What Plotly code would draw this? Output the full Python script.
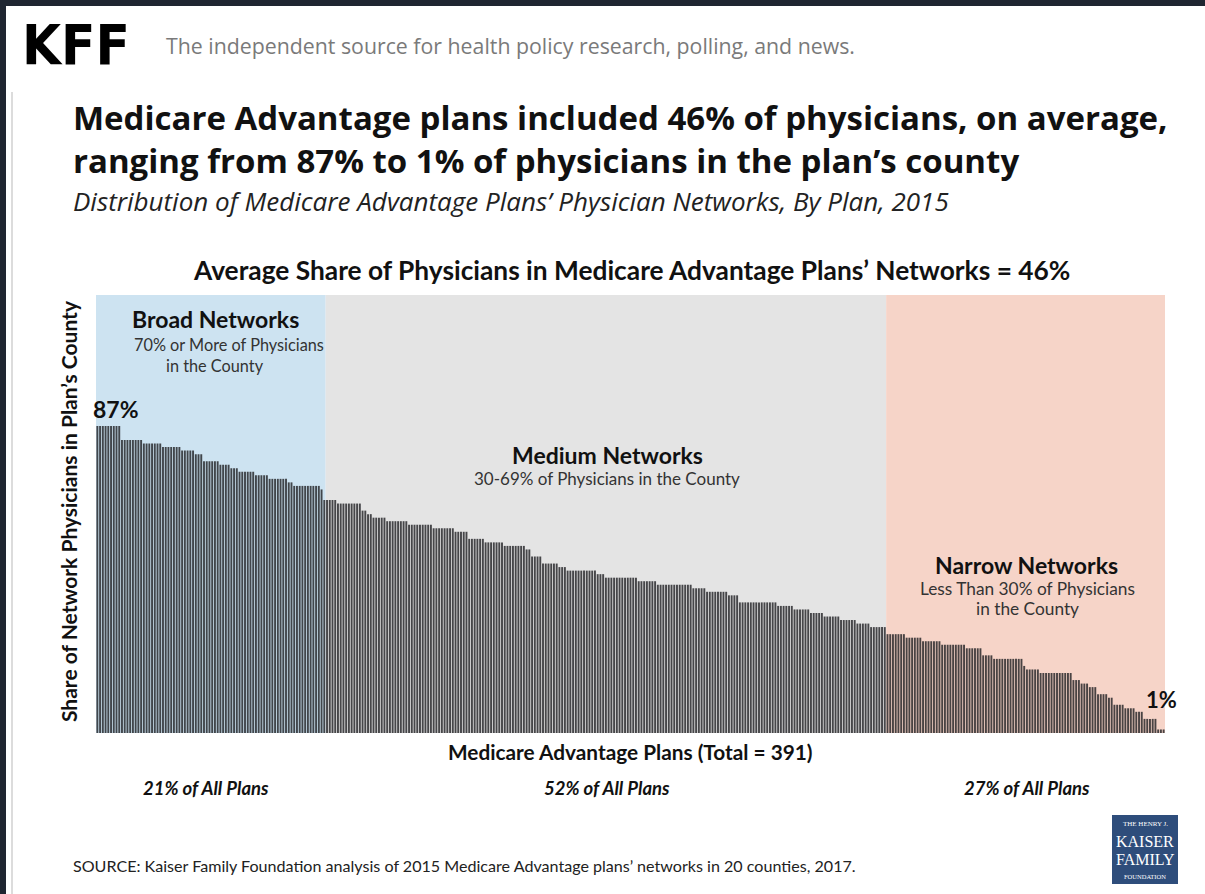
import numpy as np
import plotly.graph_objects as go

# ---- data: step levels (share %) and number of plans at each level ----
broad_levels = [87, 83, 82, 81, 80, 79, 77, 76, 75, 74, 73, 72, 71, 70]
broad_counts = [9, 8, 7, 7, 5, 3, 6, 4, 3, 6, 5, 7, 2, 10]
medium_levels = [69, 66, 65, 63, 62, 61, 60, 59, 58, 57, 55, 54, 53, 52, 50, 48, 47, 46, 45, 44,
                 43, 42, 41, 40, 39, 37, 36, 35, 34, 33, 32, 31, 30]
medium_counts = [1, 5, 9, 2, 2, 5, 8, 9, 8, 5, 6, 7, 8, 2, 4, 6, 3, 11, 3, 12,
                 7, 13, 5, 8, 4, 14, 6, 6, 5, 6, 6, 5, 6]
narrow_levels = [28, 27, 26, 25, 24, 22, 21, 19, 18, 17, 15, 14, 13, 11, 10, 8, 7, 6, 4, 1]
narrow_counts = [7, 6, 7, 9, 6, 4, 11, 1, 5, 12, 3, 3, 3, 4, 2, 4, 4, 3, 5, 3]

group_labels = ["21% of All Plans", "52% of All Plans", "27% of All Plans"]

shares = np.concatenate([
    np.repeat(broad_levels, broad_counts),
    np.repeat(medium_levels, medium_counts),
    np.repeat(narrow_levels, narrow_counts),
])
plans = np.arange(len(shares))
nb, nm = sum(broad_counts), sum(medium_counts)
N = len(shares)

# ---- pixel -> paper helpers (plot area: x 96..1165, y 295..733) ----
L, R, T, B = 96, 1165, 295, 733
W, H = 1205, 894
def px(x):
    return (x - L) / (R - L)
def py(y):
    return (B - y) / (B - T)

FONT = "Lato, Open Sans, sans-serif"
fig = go.Figure()
fig.add_trace(go.Bar(x=plans, y=shares, marker=dict(color="rgba(30,30,34,0.8)", line=dict(width=0)),
                     hoverinfo="x+y", showlegend=False))

# region backgrounds
regions = [(-0.5, nb + 1.5, "#cde3f1"), (nb + 1.5, nb + nm - 0.5, "#e4e4e4"), (nb + nm - 0.5, N - 0.5, "#f6d4c8")]
for x0, x1, c in regions:
    fig.add_shape(type="rect", xref="x", yref="paper", x0=x0, x1=x1, y0=0, y1=1,
                  fillcolor=c, line=dict(width=0), layer="below")

# page decoration: dark frame, card border
fig.add_shape(type="rect", xref="paper", yref="paper", x0=px(0), x1=px(W), y0=py(0), y1=py(6),
              fillcolor="#1f2631", line=dict(width=0))
fig.add_shape(type="rect", xref="paper", yref="paper", x0=px(0), x1=px(6), y0=py(0), y1=py(H),
              fillcolor="#1f2631", line=dict(width=0))
fig.add_shape(type="line", xref="paper", yref="paper", x0=px(12), x1=px(12), y0=py(92), y1=py(H),
              line=dict(color="#dcdcdc", width=2))

ann = []
def text(x, y, s, size, color="#111", bold=False, italic=False, xa="center", family=FONT, angle=0):
    if bold:
        s = "<b>" + s + "</b>"
    if italic:
        s = "<i>" + s + "</i>"
    ann.append(dict(xref="paper", yref="paper", x=px(x), y=py(y), text=s, showarrow=False,
                    xanchor=xa, yanchor="middle", textangle=angle,
                    font=dict(family=family, size=size, color=color)))

# header
text(20, 44, "KFF", 56, "#000", bold=True, xa="left", family="Liberation Sans Narrow, DejaVu Sans Condensed, sans-serif")
text(164, 46, "The independent source for health policy research, polling, and news.", 21.3, "#7a7a7a",
     xa="left", family="Open Sans, sans-serif")
# titles
text(71, 117, "Medicare Advantage plans included 46% of physicians, on average,", 33, "#111", bold=True,
     xa="left", family="Open Sans, sans-serif")
text(71, 160, "ranging from 87% to 1% of physicians in the plan\u2019s county", 33, "#111", bold=True,
     xa="left", family="Open Sans, sans-serif")
text(71, 201, "Distribution of Medicare Advantage Plans\u2019 Physician Networks, By Plan, 2015", 26, "#222",
     italic=True, xa="left", family="Open Sans, sans-serif")
text(631, 270, "Average Share of Physicians in Medicare Advantage Plans\u2019 Networks = 46%", 26.3, "#111", bold=True)

# region labels
text(215, 319, "Broad Networks", 23, bold=True)
text(229, 344, "70% or More of Physicians", 16.3, "#333")
text(215, 365, "in the County", 16.3, "#333")
text(607, 455, "Medium Networks", 23, bold=True)
text(607, 478, "30-69% of Physicians in the County", 17, "#333")
text(1026, 565, "Narrow Networks", 23, bold=True)
text(1027, 588, "Less Than 30% of Physicians", 17.3, "#333")
text(1027, 608, "in the County", 17.3, "#333")
text(116, 409, "87%", 23, bold=True)
text(1161, 699, "1%", 22, bold=True)

# axes titles
text(68, 511, "Share of Network Physicians in Plan\u2019s County", 21, "#111", bold=True, angle=-90)
text(630, 751, "Medicare Advantage Plans (Total = 391)", 20.8, "#111", bold=True)
for xx, lab in zip([206, 607, 1027], group_labels):
    text(xx, 788, lab, 18.5, "#111", bold=True, italic=True)

text(71, 865, "SOURCE: Kaiser Family Foundation analysis of 2015 Medicare Advantage plans\u2019 networks in 20 counties, 2017.",
     16.1, "#222", xa="left")

# logo
fig.add_shape(type="rect", xref="paper", yref="paper", x0=px(1112), x1=px(1178), y0=py(815), y1=py(884),
              fillcolor="#2e4d7b", line=dict(width=0))
serif = "Liberation Serif, DejaVu Serif, serif"
text(1145, 824, "THE HENRY J.", 7, "#ffffff", family=serif)
text(1145, 841, "KAISER", 16, "#ffffff", family=serif)
text(1145, 859, "FAMILY", 16, "#ffffff", family=serif)
text(1145, 876, "FOUNDATION", 6.5, "#ffffff", family=serif)

fig.update_layout(
    width=W, height=H,
    margin=dict(l=L, r=W - R, t=T, b=H - B, pad=0),
    paper_bgcolor="#ffffff", plot_bgcolor="rgba(0,0,0,0)",
    bargap=0.3,
    xaxis=dict(range=[-0.5, N - 0.5], showticklabels=False, showgrid=False, zeroline=False, ticks="", fixedrange=True),
    yaxis=dict(range=[0, (B - T) / 3.53], showticklabels=False, showgrid=False, zeroline=False, ticks="", fixedrange=True),
    annotations=ann,
    font=dict(family=FONT),
)
fig.write_html("out.html")
